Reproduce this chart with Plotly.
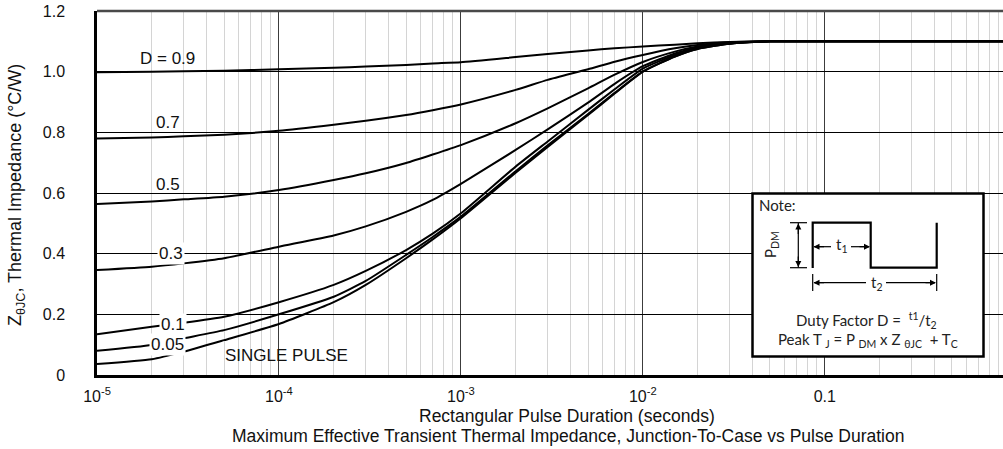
import math
import plotly.graph_objects as go

# ---------------- data ----------------
pulse_duration = [1e-5, 2e-5, 3e-5, 5e-5, 1e-4, 2e-4, 3e-4, 5e-4, 7e-4, 1e-3,
                  2e-3, 3e-3, 5e-3, 7e-3, 1e-2, 1.5e-2, 2e-2, 3e-2, 5e-2, 0.1, 1.0]

z_d09 = [0.998, 1.000, 1.001, 1.003, 1.008, 1.013, 1.017, 1.022, 1.027, 1.031,
         1.048, 1.058, 1.070, 1.077, 1.083, 1.089, 1.094, 1.098, 1.100, 1.100, 1.100]
z_d07 = [0.780, 0.783, 0.787, 0.792, 0.805, 0.825, 0.838, 0.857, 0.873, 0.892,
         0.940, 0.973, 1.008, 1.033, 1.055, 1.077, 1.088, 1.097, 1.100, 1.100, 1.100]
z_d05 = [0.564, 0.572, 0.579, 0.588, 0.610, 0.643, 0.665, 0.699, 0.727, 0.758,
         0.830, 0.879, 0.945, 0.990, 1.032, 1.066, 1.083, 1.095, 1.100, 1.100, 1.100]
z_d03 = [0.346, 0.357, 0.368, 0.385, 0.423, 0.460, 0.490, 0.538, 0.577, 0.630,
         0.742, 0.810, 0.898, 0.960, 1.018, 1.060, 1.080, 1.094, 1.100, 1.100, 1.100]
z_d01 = [0.134, 0.159, 0.172, 0.192, 0.240, 0.297, 0.343, 0.412, 0.466, 0.533,
         0.687, 0.770, 0.874, 0.942, 1.010, 1.055, 1.078, 1.093, 1.100, 1.100, 1.100]
z_d005 = [0.080, 0.099, 0.121, 0.148, 0.200, 0.258, 0.310, 0.396, 0.455, 0.522,
          0.672, 0.757, 0.860, 0.930, 1.000, 1.050, 1.075, 1.092, 1.100, 1.100, 1.100]
z_single = [0.036, 0.052, 0.077, 0.115, 0.168, 0.240, 0.297, 0.385, 0.447, 0.517,
            0.667, 0.752, 0.857, 0.928, 1.000, 1.050, 1.075, 1.092, 1.100, 1.100, 1.100]

series = [z_d09, z_d07, z_d05, z_d03, z_d01, z_d005, z_single]

x_tick_vals = [1e-5, 1e-4, 1e-3, 1e-2, 0.1]
x_tick_text = ["10<sup>-5</sup>", "10<sup>-4</sup>", "10<sup>-3</sup>", "10<sup>-2</sup>", "0.1"]
y_tick_vals = [0, 0.2, 0.4, 0.6, 0.8, 1.0, 1.2]
y_tick_text = ["0", "0.2", "0.4", "0.6", "0.8", "1.0", "1.2"]

curve_labels = ["D = 0.9", "0.7", "0.5", "0.3", "0.1", "0.05", "SINGLE PULSE"]
label_x = [2.44e-5, 2.45e-5, 2.46e-5, 2.56e-5, 2.63e-5, 2.45e-5, 1.094e-4]
label_y = [1.042, 0.831, 0.627, 0.399, 0.168, 0.102, 0.063]
label_bg = [False, False, False, True, True, True, False]

# ---------------- figure ----------------
W, H = 1003, 449
ML, MR, MT, MB = 97, 0, 11, 74
PW, PH = W - ML - MR, H - MT - MB
FONT = "Liberation Sans, Arial, Helvetica, sans-serif"
NOTE_FONT = "Lato, Open Sans, sans-serif"


def px(xp):
    return (xp - ML) / PW


def py(yp):
    return (H - MB - yp) / PH


fig = go.Figure()
for vals in series:
    fig.add_trace(go.Scatter(
        x=pulse_duration, y=vals, mode="lines",
        line=dict(color="black", width=2, shape="spline", smoothing=0.5),
        hoverinfo="skip", showlegend=False,
    ))

x_end = -5 + (W - 97.7) / 181.8

fig.update_layout(
    width=W, height=H,
    margin=dict(l=ML, r=MR, t=MT, b=MB, pad=0),
    paper_bgcolor="white", plot_bgcolor="white",
    font=dict(family=FONT, color="#111", size=14),
    xaxis=dict(
        type="log", range=[-5, x_end],
        tickvals=x_tick_vals, ticktext=x_tick_text,
        tickfont=dict(size=16, family=FONT, color="#111"),
        showgrid=True, gridcolor="#3c3c3c", gridwidth=1.4,
        minor=dict(dtick="D1", showgrid=True, gridcolor="#d4d4d4", gridwidth=1, ticks=""),
        showline=True, linecolor="black", linewidth=2.5,
        ticks="", ticklabelstandoff=5, zeroline=False,
    ),
    yaxis=dict(
        range=[0, 1.2],
        tickvals=y_tick_vals, ticktext=y_tick_text,
        tickfont=dict(size=16, family=FONT, color="#111"),
        showgrid=True, gridcolor="black", gridwidth=1,
        showline=True, linecolor="black", linewidth=2.5,
        ticks="", ticklabelstandoff=26, zeroline=False,
    ),
)

annotations = []
for txt, lx, ly, bg in zip(curve_labels, label_x, label_y, label_bg):
    annotations.append(dict(
        x=math.log10(lx), y=ly, xref="x", yref="y", text=txt, showarrow=False,
        font=dict(size=17, family=FONT, color="#111"),
        bgcolor="white" if bg else "rgba(0,0,0,0)", borderpad=1,
        xanchor="center", yanchor="middle",
    ))

# axis titles
annotations.append(dict(
    x=px(16), y=py(195), xref="paper", yref="paper", textangle=-90,
    text="Z<sub>θJC</sub>, Thermal Impedance (°C/W)", showarrow=False,
    font=dict(size=18, family=FONT, color="#111"), xanchor="center", yanchor="middle",
))
annotations.append(dict(
    x=px(567), y=py(416), xref="paper", yref="paper",
    text="Rectangular Pulse Duration (seconds)", showarrow=False,
    font=dict(size=17.5, family=FONT, color="#111"), xanchor="center", yanchor="middle",
))
annotations.append(dict(
    x=px(568), y=py(435.5), xref="paper", yref="paper",
    text="Maximum Effective Transient Thermal Impedance, Junction-To-Case vs Pulse Duration",
    showarrow=False,
    font=dict(size=17.5, family=FONT, color="#111"), xanchor="center", yanchor="middle",
))

# ---------------- note inset ----------------
shapes = [
    dict(type="line", xref="paper", yref="paper", x0=0, x1=1, y0=1, y1=1,
         line=dict(color="#4a4a4a", width=2.5)),
    dict(type="rect", xref="paper", yref="paper", x0=px(752.5), x1=px(983.5), y0=py(356.5), y1=py(193.5),
         fillcolor="white", line=dict(color="black", width=2.5), layer="above"),
    dict(type="path", xref="paper", yref="paper",
         path=f"M {px(812.7)},{py(268)} L {px(812.7)},{py(222.7)} L {px(870.7)},{py(222.7)} "
              f"L {px(870.7)},{py(267.7)} L {px(936.7)},{py(267.7)} L {px(936.7)},{py(222.7)}",
         line=dict(color="black", width=2.2)),
    dict(type="line", xref="paper", yref="paper", x0=px(798.3), x1=px(798.3), y0=py(223), y1=py(267.5),
         line=dict(color="black", width=1.2)),
    dict(type="line", xref="paper", yref="paper", x0=px(790), x1=px(807), y0=py(222.7), y1=py(222.7),
         line=dict(color="black", width=1.2)),
    dict(type="line", xref="paper", yref="paper", x0=px(790), x1=px(807), y0=py(267.7), y1=py(267.7),
         line=dict(color="black", width=1.2)),
    dict(type="line", xref="paper", yref="paper", x0=px(812.7), x1=px(812.7), y0=py(274), y1=py(291),
         line=dict(color="black", width=1.2)),
    dict(type="line", xref="paper", yref="paper", x0=px(936.7), x1=px(936.7), y0=py(274), y1=py(291),
         line=dict(color="black", width=1.2)),
    dict(type="line", xref="paper", yref="paper", x0=px(814), x1=px(831), y0=py(246.7), y1=py(246.7),
         line=dict(color="black", width=1.2)),
    dict(type="line", xref="paper", yref="paper", x0=px(851), x1=px(869), y0=py(246.7), y1=py(246.7),
         line=dict(color="black", width=1.2)),
    dict(type="line", xref="paper", yref="paper", x0=px(814), x1=px(866), y0=py(282.7), y1=py(282.7),
         line=dict(color="black", width=1.2)),
    dict(type="line", xref="paper", yref="paper", x0=px(886), x1=px(935), y0=py(282.7), y1=py(282.7),
         line=dict(color="black", width=1.2)),
]


def arrowhead(xp, yp, dx, dy):
    return dict(x=px(xp), y=py(yp), xref="paper", yref="paper", text="", showarrow=True,
                ax=dx, ay=dy, arrowhead=2, arrowsize=1, arrowwidth=1.2, arrowcolor="black")


annotations += [
    arrowhead(798.3, 223.5, 0, 12), arrowhead(798.3, 267, 0, -12),
    arrowhead(813.5, 246.7, 12, 0), arrowhead(870, 246.7, -12, 0),
    arrowhead(813.5, 282.7, 12, 0), arrowhead(936, 282.7, -12, 0),
]

note_txt = [
    ("Note:", 757, 205, "left", 0, 15),
    ("P<sub>DM</sub>", 771, 245, "center", -90, 15),
    ("t<sub>1</sub>", 841, 245, "center", 0, 15),
    ("t<sub>2</sub>", 876, 283, "center", 0, 15),
    ("Duty Factor D =  <sup>t1</sup>/t<sub>2</sub>", 866, 320, "center", 0, 15),
    ("Peak T <sub>J</sub> = P <sub>DM</sub> x Z <sub>θJC</sub>  + T<sub>C</sub>", 868, 340, "center", 0, 15),
]
for txt, xx, yy, anc, ang, fs in note_txt:
    annotations.append(dict(
        x=px(xx), y=py(yy), xref="paper", yref="paper", text=txt, showarrow=False,
        textangle=ang, xanchor=anc, yanchor="middle",
        font=dict(size=fs, family=NOTE_FONT, color="#222"),
    ))

fig.update_layout(shapes=shapes, annotations=annotations)
fig.write_html("out.html", config={"displayModeBar": False},
               post_script="document.body.style.margin='0px';")
